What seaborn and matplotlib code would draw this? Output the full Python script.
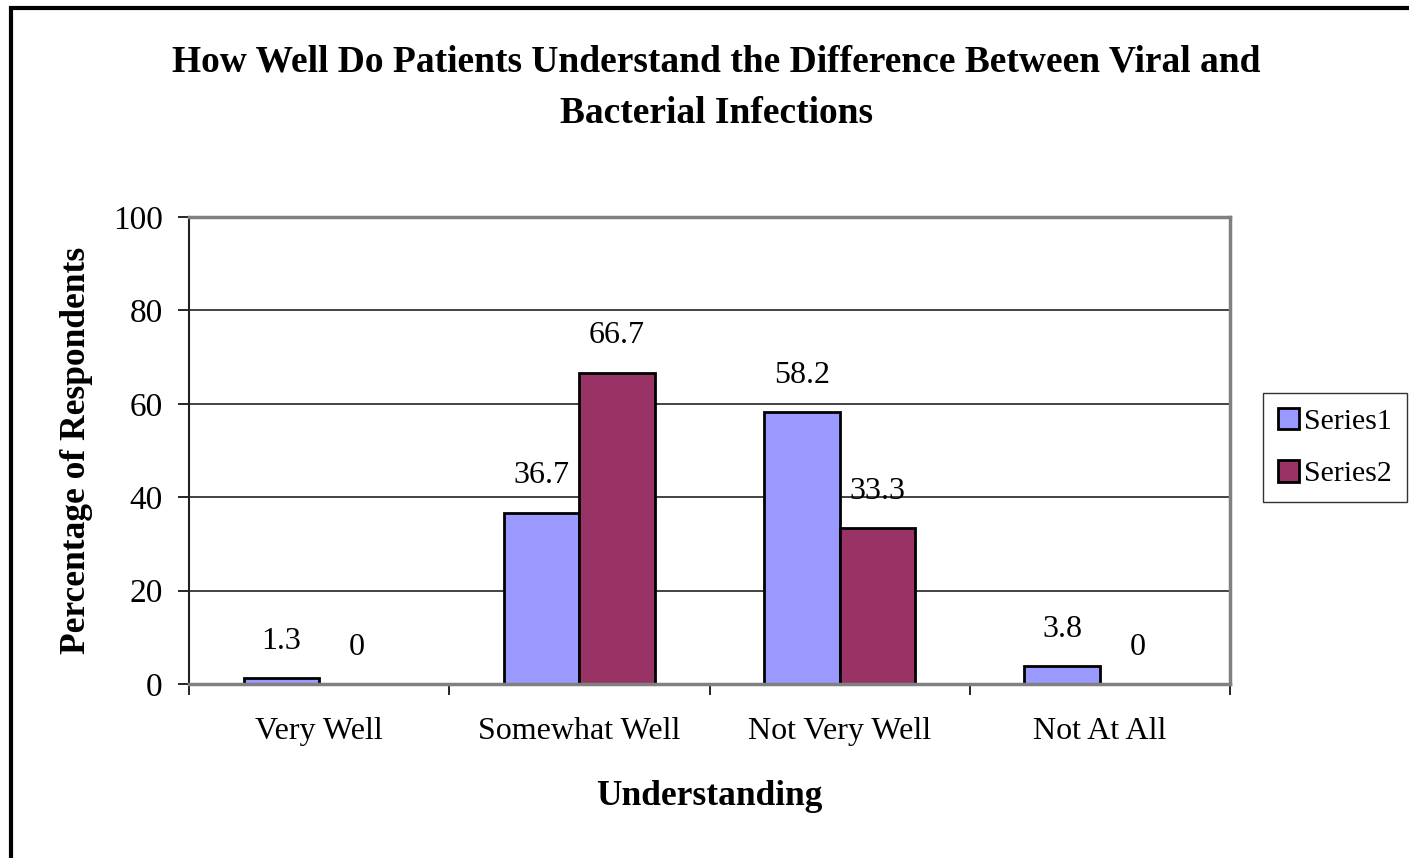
import pandas as pd
import matplotlib.pyplot as plt
import matplotlib.patches as mpatches
import seaborn as sns

# chart data
categories = ['Very Well', 'Somewhat Well', 'Not Very Well', 'Not At All']
series1 = [1.3, 36.7, 58.2, 3.8]
series2 = [0, 66.7, 33.3, 0]
series_names = ['Series1', 'Series2']
y_ticks = [0, 20, 40, 60, 80, 100]

df = pd.DataFrame({
    'category': categories * 2,
    'value': series1 + series2,
    'series': [series_names[0]] * len(categories) + [series_names[1]] * len(categories),
})

sns.set_style('white')
plt.rcParams['font.family'] = ['Liberation Serif', 'DejaVu Serif']
plt.rcParams['text.color'] = 'black'
plt.rcParams['axes.labelcolor'] = 'black'
plt.rcParams['xtick.color'] = 'black'
plt.rcParams['ytick.color'] = 'black'

fig = plt.figure(figsize=(14.09, 8.58), dpi=100)
ax = fig.add_axes([189 / 1409, 1 - 684 / 858, (1230 - 189) / 1409, (684 - 217) / 858])

palette = {'Series1': '#9999FF', 'Series2': '#993366'}
sns.barplot(data=df, x='category', y='value', hue='series', palette=palette,
            width=0.58, edgecolor='black', linewidth=2, saturation=1, ax=ax)

# value labels above the bars
for cont in ax.containers:
    ax.bar_label(cont, labels=[f'{v:g}' for v in cont.datavalues],
                 padding=16, fontsize=23, color='black')

ax.set_ylim(0, 100)
ax.set_xlim(-0.5, len(categories) - 0.5)
ax.set_yticks(y_ticks)
ax.yaxis.grid(True, color='#222222', linewidth=1.2)
ax.set_axisbelow(True)

# spines like an Excel plot area
for side in ['top', 'right']:
    ax.spines[side].set_color('#808080')
    ax.spines[side].set_linewidth(2.5)
ax.spines['bottom'].set_color('#808080')
ax.spines['bottom'].set_linewidth(2.5)
ax.spines['left'].set_color('#222222')
ax.spines['left'].set_linewidth(1.5)

ax.tick_params(axis='y', direction='out', length=8, width=1.2, color='black',
               labelsize=24, pad=11, left=True)
ax.tick_params(axis='x', which='major', length=0, labelsize=23, pad=24)
ax.set_xticks([i - 0.5 for i in range(len(categories) + 1)], minor=True)
ax.tick_params(axis='x', which='minor', direction='out', length=8, width=1.2,
               color='black', bottom=True)

ax.set_xlabel('Understanding', fontsize=25.5, fontweight='bold', labelpad=24)
ax.set_ylabel('Percentage of Respondents', fontsize=25.5, fontweight='bold', labelpad=14)

fig.text(716 / 1409, 1 - 88 / 858,
         'How Well Do Patients Understand the Difference Between Viral and\nBacterial Infections',
         ha='center', va='center', fontsize=27, fontweight='bold', linespacing=1.6)

handles = [mpatches.Patch(facecolor=palette[s], edgecolor='black', linewidth=2) for s in series_names]
ax.legend(handles, series_names, loc='upper left',
          bbox_to_anchor=(1263 / 1409, 1 - 393 / 858), bbox_transform=fig.transFigure,
          fontsize=21.5, frameon=True, fancybox=False, edgecolor='black',
          handlelength=0.72, handleheight=0.72, handletextpad=0.15,
          labelspacing=0.85, borderpad=0.5, borderaxespad=0)
ax.get_legend().get_frame().set_linewidth(1)

# outer chart border
fig.patches.append(mpatches.Rectangle((11 / 1409, -0.1), 1.2, 1.1 - 8 / 858,
                                      transform=fig.transFigure, fill=False,
                                      edgecolor='black', linewidth=3))

fig.savefig('out.png', dpi=100)
